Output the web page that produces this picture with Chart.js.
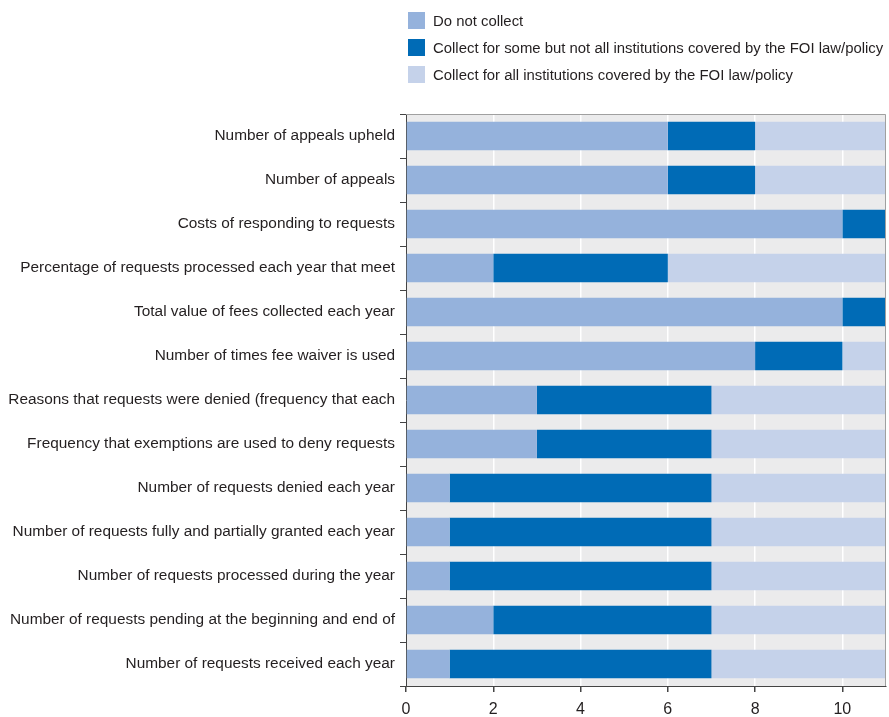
<!DOCTYPE html>
<html>
<head>
<meta charset="utf-8">
<script src="https://cdn.jsdelivr.net/npm/chart.js@4.4.0/dist/chart.umd.min.js"></script>
<style>
  body { margin: 0; background: #fff; }
  #wrap { position: relative; width: 889px; height: 717px; }
  #legend { position: absolute; left: 408px; top: 7px; font-family: 'Liberation Sans', Arial, sans-serif; font-size: 14.9px; color: #231f20; white-space: nowrap; }
  #legend div { display: flex; align-items: center; height: 27px; }
  #legend span.box { width: 17px; height: 17px; margin-right: 8px; display: inline-block; flex: none; }
</style>
</head>
<body>
<div id="wrap">
  <div id="legend"></div>
  <canvas id="chart" width="889" height="717"></canvas>
</div>
<script>
// Categories (top to bottom)
const categories = [
    'Number of appeals upheld',
    'Number of appeals',
    'Costs of responding to requests',
    'Percentage of requests processed each year that meet',
    'Total value of fees collected each year',
    'Number of times fee waiver is used',
    'Reasons that requests were denied (frequency that each',
    'Frequency that exemptions are used to deny requests',
    'Number of requests denied each year',
    'Number of requests fully and partially granted each year',
    'Number of requests processed during the year',
    'Number of requests pending at the beginning and end of',
    'Number of requests received each year',
];

const doNotCollect = [6, 6, 10, 2, 10, 8, 3, 3, 1, 1, 1, 2, 1];
const collectSome = [2, 2, 1, 4, 1, 2, 4, 4, 6, 6, 6, 5, 6];
const collectAll = [3, 3, 0, 5, 0, 1, 4, 4, 4, 4, 4, 4, 4];

const seriesNames = [
    'Do not collect',
    'Collect for some but not all institutions covered by the FOI law/policy',
    'Collect for all institutions covered by the FOI law/policy',
];
const seriesColors = ['#95b2dc', '#006bb6', '#c5d2ea'];

const fontFamily = "'Liberation Sans', Arial, sans-serif";
const textColor = '#231f20';

// Plot background and frame
const plotBackground = {
    id: 'plotBackground',
    beforeDraw(chart) {
        const { ctx, chartArea: a } = chart;
        ctx.save();
        ctx.fillStyle = '#ebebec';
        ctx.fillRect(a.left, a.top, a.right - a.left, a.bottom - a.top);
        ctx.restore();
    },
    afterDraw(chart) {
        const { ctx, chartArea: a } = chart;
        ctx.save();
        ctx.strokeStyle = '#a0a0a0';
        ctx.lineWidth = 1;
        ctx.beginPath();
        ctx.moveTo(a.left, a.top + 0.5);
        ctx.lineTo(a.right - 0.5, a.top + 0.5);
        ctx.lineTo(a.right - 0.5, a.bottom);
        ctx.stroke();
        ctx.restore();
    },
};

const data = {
    labels: categories,
    datasets: [
        { label: seriesNames[0], data: doNotCollect, backgroundColor: seriesColors[0] },
        { label: seriesNames[1], data: collectSome, backgroundColor: seriesColors[1] },
        { label: seriesNames[2], data: collectAll, backgroundColor: seriesColors[2] },
    ],
};

const chart = new Chart(document.getElementById('chart'), {
    type: 'bar',
    data: data,
    plugins: [plotBackground],
    options: {
        indexAxis: 'y',
        responsive: false,
        animation: false,
        layout: { padding: { top: 114, left: 6, right: 3, bottom: 0 } },
        datasets: {
            bar: { barPercentage: 0.65, categoryPercentage: 1, borderWidth: 0 },
        },
        scales: {
            x: {
                stacked: true,
                min: 0,
                max: 11,
                afterBuildTicks: scale => {
                    scale.ticks = scale.ticks.filter(t => t.value % 2 === 0);
                },
                afterFit: scale => { scale.height = 31; },
                ticks: { stepSize: 2, color: textColor, font: { family: fontFamily, size: 16 }, padding: 8 },
                grid: { color: '#ffffff', lineWidth: 1.5, tickColor: '#444', tickLength: 6 },
                border: { color: '#444', width: 1 },
            },
            y: {
                stacked: true,
                afterFit: scale => { scale.width = 400; },
                ticks: { color: textColor, font: { family: fontFamily, size: 15.4 }, padding: 5 },
                grid: { drawOnChartArea: false, tickColor: '#444', tickLength: 6 },
                border: { color: '#444', width: 1 },
            },
        },
        plugins: {
            legend: { display: false },
            tooltip: { enabled: false },
        },
    },
});

// HTML legend from the datasets
const legendEl = document.getElementById('legend');
data.datasets.forEach(ds => {
    const row = document.createElement('div');
    row.innerHTML = `<span class="box" style="background:${ds.backgroundColor}"></span>${ds.label}`;
    legendEl.appendChild(row);
});
</script>
</body>
</html>
